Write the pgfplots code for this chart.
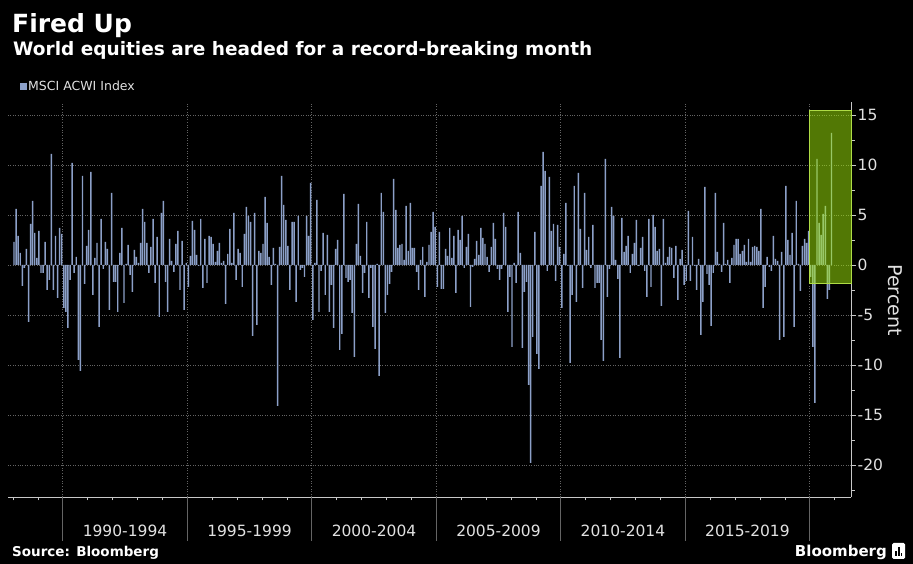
\documentclass[border=0pt]{standalone}
\usepackage{fontspec}
\setmainfont{DejaVu Sans}
\usepackage{pgfplots}
\pgfplotsset{compat=1.18}
\definecolor{barblue}{RGB}{140,160,200}
\definecolor{gridgray}{RGB}{100,100,100}
\definecolor{axisgray}{RGB}{200,200,200}
\definecolor{ticktext}{RGB}{225,225,225}
\definecolor{hlgreen}{RGB}{165,240,10}
\definecolor{hledge}{RGB}{175,220,70}

\begin{document}
\begin{tikzpicture}
\fill[black] (0pt,0pt) rectangle (913pt,564pt);
\useasboundingbox (0pt,0pt) rectangle (913pt,564pt);

% titles and legend
\node[anchor=base west, inner sep=0pt, white, font=\fontsize{25}{29}\selectfont\bfseries] at (12pt,531pt) {Fired Up};
\node[anchor=base west, inner sep=0pt, white, font=\fontsize{18.5}{22}\selectfont\bfseries] at (13pt,508pt) {World equities are headed for a record-breaking month};
\fill[barblue] (20pt,473.5pt) rectangle (27pt,481pt);
\node[anchor=base west, inner sep=0pt, ticktext, font=\fontsize{12.5}{15}\selectfont] at (28pt,473pt) {MSCI ACWI Index};
\node[anchor=base west, inner sep=0pt, white, font=\fontsize{13.5}{16}\selectfont\bfseries] at (12pt,7pt) {Source: Bloomberg};
\node[anchor=base east, inner sep=0pt, white, font=\fontsize{15}{17}\selectfont\bfseries] at (887pt,7pt) {Bloomberg};
\fill[white, rounded corners=1.5pt] (892pt,5pt) rectangle (905pt,21pt);
\fill[black] (895pt,8pt) rectangle (896.6pt,13pt);
\fill[black] (897.9pt,8pt) rectangle (899.5pt,17pt);
\fill[black] (900.8pt,8pt) rectangle (902.4pt,11pt);
\node[rotate=-90, inner sep=0pt, ticktext, font=\fontsize{19}{22}\selectfont] at (895pt,264pt) {Percent};

\begin{axis}[
  at={(8pt,67pt)}, anchor=south west,
  width=843pt, height=395pt, scale only axis,
  xmin=-2.9, xmax=403.4, ymin=-23.2, ymax=16.3,
  clip=false,
  axis x line*=bottom, axis y line*=right,
  axis line style={axisgray, line width=0.7pt, -},
  tick align=outside,
  major tick length=5pt, minor tick length=3.5pt,
  tick style={axisgray, line width=0.6pt},
  xtick={53.5,113.5,173.5,233.5,293.5,353.5},
  xticklabels={1990-1994,1995-1999,2000-2004,2005-2009,2010-2014,2015-2019},
  major x tick style={draw=none},
  minor xtick={-0.5,11.5,...,395.5},
  xticklabel style={anchor=base, yshift=-35pt},
  ytick={-20,-15,...,15},
  yticklabels={-20,-15,-10,-5,0,5,10,15},
  minor ytick={-22.5,-17.5,...,12.5},
  yticklabel style={anchor=west, inner sep=1.5pt},
  tick label style={ticktext, font=\fontsize{15.5}{18}\selectfont},
  ymajorgrids,
  y grid style={gridgray, dotted, line width=0.6pt},
]
\pgfplotsinvokeforeach{23.5,83.5,143.5,203.5,263.5,323.5,383.5}{
  \draw[gridgray, dotted, line width=0.6pt] (axis cs:#1,-23.2) -- (axis cs:#1,16.3);
  \draw[gridgray, line width=0.6pt] (axis cs:#1,-23.2) -- ++(0pt,-44pt);
}
\addplot[ybar, bar width=0.7, fill=barblue, draw=none] coordinates {
(0,2.3)(1,5.6)(2,2.9)(3,1.2)(4,-2.1)(5,-0.3)(6,1.6)(7,-5.7)(8,4.1)(9,6.4)
(10,3.2)(11,0.7)(12,3.4)(13,-0.8)(14,-0.8)(15,2.3)(16,-2.5)(17,-1.5)(18,11.1)(19,-2.5)
(20,2.9)(21,-3.3)(22,3.7)(23,3.1)(24,-4.3)(25,-4.7)(26,-6.3)(27,-1.5)(28,10.2)(29,-0.8)
(30,0.8)(31,-9.5)(32,-10.6)(33,8.9)(34,-1.9)(35,1.9)(36,3.5)(37,9.3)(38,-3.0)(39,0.7)
(40,2.2)(41,-6.2)(42,4.6)(43,-0.4)(44,2.3)(45,1.6)(46,-4.5)(47,7.2)(48,-1.7)(49,-1.7)
(50,-4.7)(51,1.2)(52,3.7)(53,-3.8)(54,0.1)(55,2.0)(56,-1.0)(57,-2.7)(58,1.5)(59,0.8)
(60,0.2)(61,2.2)(62,5.6)(63,4.3)(64,2.2)(65,-0.8)(66,1.8)(67,4.6)(68,-1.8)(69,2.8)
(70,-5.2)(71,5.2)(72,6.4)(73,-1.7)(74,-4.7)(75,2.6)(76,0.4)(77,-0.7)(78,2.1)(79,3.4)
(80,-2.5)(81,2.4)(82,-4.5)(83,0.2)(84,-2.2)(85,0.9)(86,4.4)(87,3.5)(88,1.0)(89,-0.1)
(90,4.6)(91,-2.3)(92,2.6)(93,-1.8)(94,2.9)(95,2.8)(96,2.1)(97,0.3)(98,1.4)(99,2.2)
(100,0.2)(101,0.4)(102,-3.9)(103,1.1)(104,3.6)(105,0.2)(106,5.2)(107,-1.5)(108,1.6)(109,1.2)
(110,-2.2)(111,3.1)(112,5.8)(113,4.9)(114,4.3)(115,-7.1)(116,5.2)(117,-6.0)(118,1.4)(119,1.2)
(120,2.1)(121,6.8)(122,4.2)(123,0.8)(124,-2.0)(125,1.7)(126,0.1)(127,-14.1)(128,1.8)(129,8.9)
(130,6.0)(131,4.5)(132,1.9)(133,-2.5)(134,4.3)(135,4.3)(136,-3.7)(137,4.9)(138,-0.5)(139,-0.3)
(140,-1.2)(141,4.9)(142,2.9)(143,8.2)(144,-5.5)(145,0.2)(146,6.5)(147,-4.7)(148,-0.6)(149,3.2)
(150,-3.0)(151,3.0)(152,-4.7)(153,-2.0)(154,-6.3)(155,1.6)(156,2.5)(157,-8.5)(158,-6.9)(159,7.1)
(160,-1.3)(161,-1.7)(162,-1.5)(163,-4.8)(164,-9.2)(165,2.1)(166,6.1)(167,0.9)(168,-2.8)(169,-0.8)
(170,4.3)(171,-3.3)(172,-0.3)(173,-6.2)(174,-8.4)(175,0.1)(176,-11.1)(177,7.2)(178,5.3)(179,-4.8)
(180,-3.0)(181,-1.9)(182,-0.7)(183,8.6)(184,5.5)(185,1.7)(186,2.0)(187,2.1)(188,0.5)(189,5.9)
(190,1.4)(191,6.2)(192,1.7)(193,1.7)(194,-0.7)(195,-2.5)(196,0.5)(197,1.8)(198,-3.2)(199,0.3)
(200,2.0)(201,3.3)(202,5.3)(203,3.8)(204,-2.2)(205,3.3)(206,-2.4)(207,-2.4)(208,1.6)(209,0.9)
(210,3.7)(211,0.7)(212,2.9)(213,-2.8)(214,3.5)(215,2.5)(216,4.9)(217,-0.3)(218,1.8)(219,3.1)
(220,-4.2)(221,-0.2)(222,0.6)(223,2.4)(224,1.0)(225,3.7)(226,2.7)(227,2.1)(228,0.8)(229,-0.7)
(230,1.8)(231,4.2)(232,2.6)(233,-0.4)(234,-1.5)(235,-0.4)(236,5.2)(237,3.8)(238,-4.7)(239,-1.2)
(240,-8.2)(241,0.2)(242,-1.8)(243,5.3)(244,1.2)(245,-8.3)(246,-2.7)(247,-1.7)(248,-12.0)(249,-19.8)
(250,-7.2)(251,3.3)(252,-8.9)(253,-10.4)(254,7.9)(255,11.3)(256,9.4)(257,-0.6)(258,8.8)(259,3.4)
(260,4.1)(261,-1.6)(262,4.0)(263,1.8)(264,-4.3)(265,1.1)(266,6.2)(267,-0.1)(268,-9.8)(269,-3.0)
(270,7.9)(271,-3.7)(272,9.2)(273,3.6)(274,-2.3)(275,7.2)(276,1.5)(277,2.8)(278,-0.3)(279,4.0)
(280,-2.3)(281,-1.8)(282,-1.8)(283,-7.5)(284,-9.6)(285,10.6)(286,-3.2)(287,-0.4)(288,5.8)(289,4.9)
(290,0.5)(291,-1.4)(292,-9.3)(293,4.7)(294,1.3)(295,1.9)(296,2.9)(297,-0.8)(298,1.1)(299,2.2)
(300,4.5)(301,-0.1)(302,1.7)(303,2.8)(304,-0.6)(305,-3.2)(306,4.6)(307,-2.2)(308,5.0)(309,3.8)
(310,1.4)(311,1.6)(312,-4.1)(313,4.6)(314,0.2)(315,0.8)(316,1.8)(317,1.7)(318,-1.3)(319,1.9)
(320,-3.5)(321,0.6)(322,1.5)(323,-2.0)(324,-1.6)(325,5.4)(326,-1.6)(327,2.8)(328,-0.1)(329,-2.5)
(330,0.6)(331,-7.0)(332,-3.7)(333,7.8)(334,-0.9)(335,-2.0)(336,-6.1)(337,-0.8)(338,7.2)(339,1.3)
(340,0.1)(341,-0.7)(342,4.2)(343,0.1)(344,0.5)(345,-1.8)(346,0.7)(347,2.0)(348,2.6)(349,2.6)
(350,1.1)(351,1.4)(352,2.0)(353,0.3)(354,2.6)(355,0.3)(356,1.8)(357,1.9)(358,1.8)(359,1.4)
(360,5.6)(361,-4.3)(362,-2.2)(363,0.8)(364,-0.2)(365,-0.6)(366,2.9)(367,0.6)(368,0.4)(369,-7.5)
(370,1.3)(371,-7.2)(372,7.9)(373,2.5)(374,1.0)(375,3.2)(376,-6.2)(377,6.4)(378,0.1)(379,-2.6)
(380,1.9)(381,2.6)(382,2.2)(383,3.4)(384,-1.2)(385,-8.2)(386,-13.8)(387,10.6)(388,4.2)(389,3.0)
(390,5.1)(391,5.9)(392,-3.4)(393,-2.5)(394,13.2)
};
% highlighted 2020 box
\fill[hlgreen, fill opacity=0.5] (axis cs:383.5,-1.8) rectangle (axis cs:403.4,15.5);
\draw[hledge, line width=0.8pt] (axis cs:383.5,-1.8) rectangle (axis cs:403.4,15.5);
\end{axis}
\end{tikzpicture}
\end{document}
